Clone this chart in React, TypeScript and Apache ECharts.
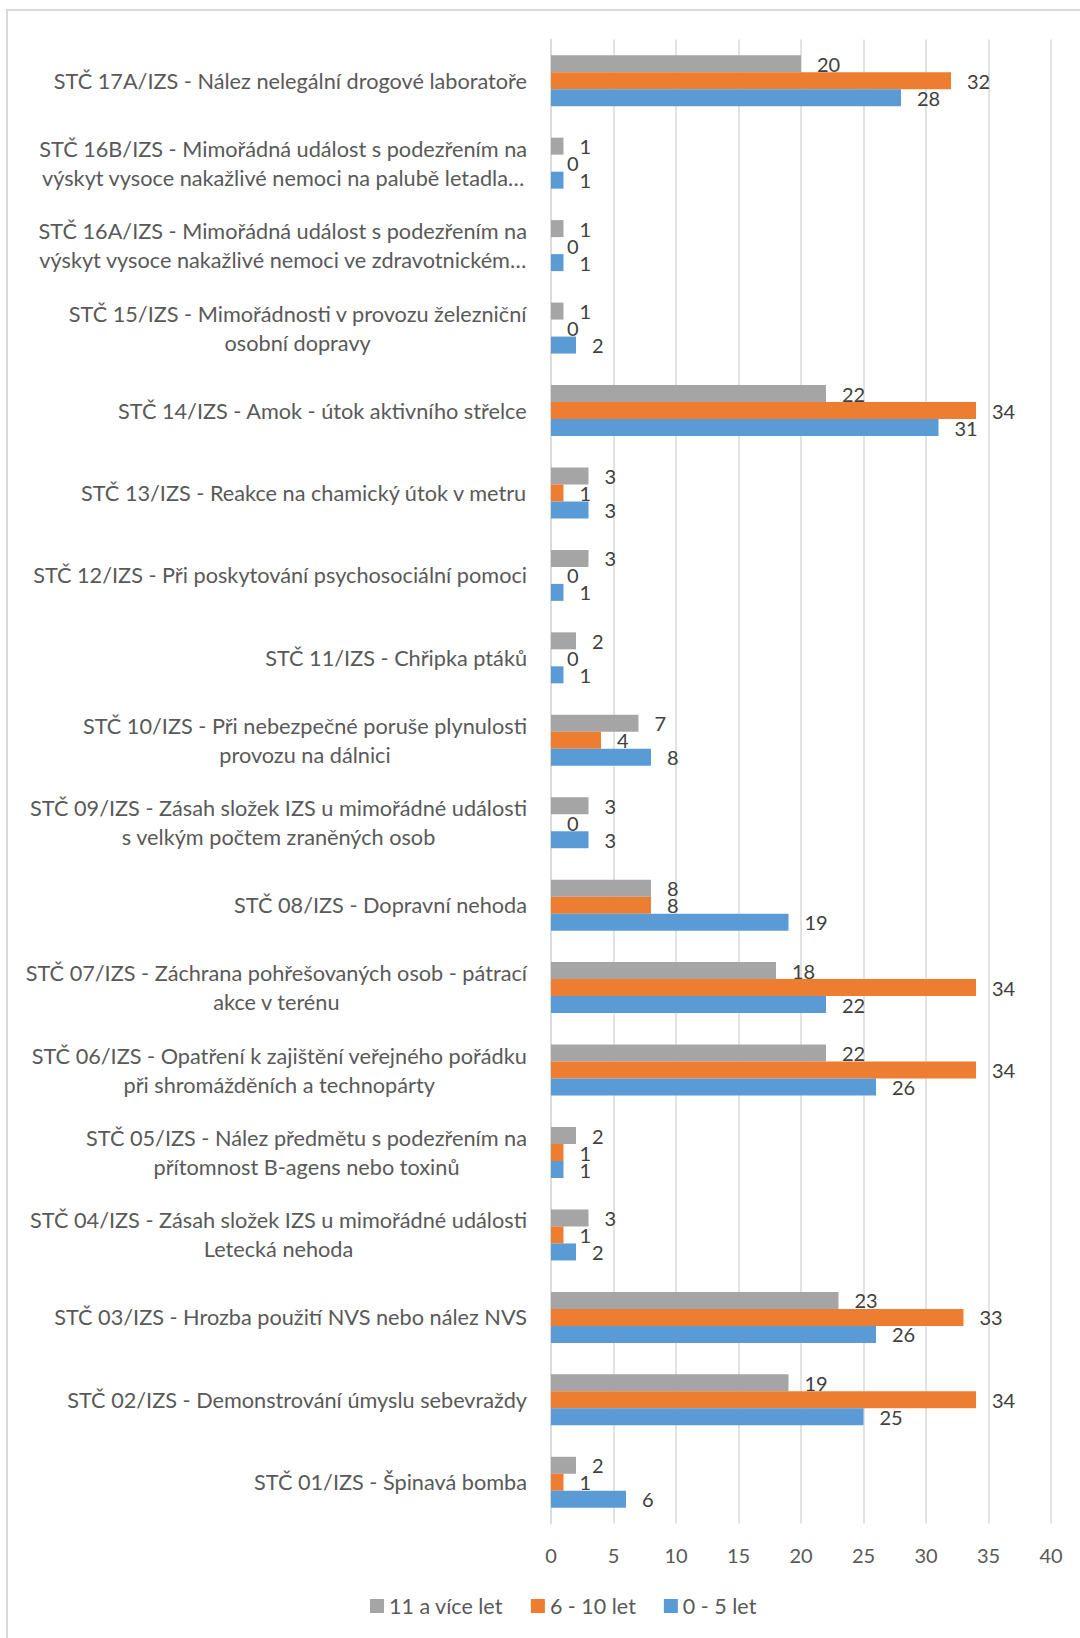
import React, { useEffect, useRef } from "react";
import * as echarts from "echarts";

const categories: string[] = [
  "STČ 17A/IZS - Nález nelegální drogové laboratoře",
  "STČ 16B/IZS - Mimořádná událost s podezřením na\nvýskyt vysoce nakažlivé nemoci na palubě letadla…",
  "STČ 16A/IZS - Mimořádná událost s podezřením na\nvýskyt vysoce nakažlivé nemoci ve zdravotnickém…",
  "STČ 15/IZS - Mimořádnosti v provozu železniční\nosobní dopravy",
  "STČ 14/IZS - Amok - útok aktivního střelce",
  "STČ 13/IZS - Reakce na chamický útok v metru",
  "STČ 12/IZS - Při poskytování psychosociální pomoci",
  "STČ 11/IZS - Chřipka ptáků",
  "STČ 10/IZS - Při nebezpečné poruše plynulosti\nprovozu na dálnici",
  "STČ 09/IZS - Zásah složek IZS u mimořádné události\ns velkým počtem zraněných osob",
  "STČ 08/IZS - Dopravní nehoda",
  "STČ 07/IZS - Záchrana pohřešovaných osob - pátrací\nakce v terénu",
  "STČ 06/IZS - Opatření k zajištění veřejného pořádku\npři shromážděních a technopárty",
  "STČ 05/IZS - Nález předmětu s podezřením na\npřítomnost B-agens nebo toxinů",
  "STČ 04/IZS - Zásah složek IZS u mimořádné události\nLetecká nehoda",
  "STČ 03/IZS - Hrozba použití NVS nebo nález NVS",
  "STČ 02/IZS - Demonstrování úmyslu sebevraždy",
  "STČ 01/IZS - Špinavá bomba",
];

const seriesNames: string[] = ["11 a více let", "6 - 10 let", "0 - 5 let"];

const valuesOld: number[] = [20, 1, 1, 1, 22, 3, 3, 2, 7, 3, 8, 18, 22, 2, 3, 23, 19, 2];
const valuesMid: number[] = [32, 0, 0, 0, 34, 1, 0, 0, 4, 0, 8, 34, 34, 1, 1, 33, 34, 1];
const valuesYoung: number[] = [28, 1, 1, 2, 31, 3, 1, 1, 8, 3, 19, 22, 26, 1, 2, 26, 25, 6];

const xTicks = { min: 0, max: 40, interval: 5 };

const colors = ["#a5a5a5", "#ed7d31", "#5b9bd5"];
const FONT = "Lato";

export default function App() {
  const ref = useRef<HTMLDivElement>(null);

  useEffect(() => {
    if (!ref.current) return;
    const chart = echarts.init(ref.current, undefined, { renderer: "svg" });
    const datasets = [valuesOld, valuesMid, valuesYoung];

    const option: any = {
      animation: false,
      backgroundColor: "#ffffff",
      textStyle: { fontFamily: FONT },
      graphic: [
        {
          type: "rect",
          shape: { x: 7, y: 10, width: 1200, height: 1800 },
          style: { fill: "none", stroke: "#d9d9d9", lineWidth: 2 },
          silent: true,
          z: 0,
        },
      ],
      grid: {
        left: 551,
        right: 29,
        top: 39.5,
        bottom: 114.5,
        containLabel: false,
      },
      legend: {
        bottom: 16,
        left: 365,
        itemWidth: 14,
        itemHeight: 14,
        itemGap: 28,
        icon: "rect",
        textStyle: { fontFamily: FONT, fontSize: 21.5, color: "#595959" },
        data: seriesNames,
      },
      xAxis: {
        type: "value",
        min: xTicks.min,
        max: xTicks.max,
        interval: xTicks.interval,
        axisLine: { show: false },
        axisTick: { show: false },
        axisLabel: { fontFamily: FONT, fontSize: 20, color: "#595959", margin: 21 },
        splitLine: { show: true, lineStyle: { color: "#d9d9d9", width: 1.5 } },
      },
      yAxis: {
        type: "category",
        inverse: true,
        data: categories,
        axisLine: { show: true, lineStyle: { color: "#d9d9d9", width: 1.5 } },
        axisTick: { show: false },
        axisLabel: {
          margin: 24,
          fontFamily: FONT,
          fontSize: 21.7,
          color: "#595959",
          lineHeight: 29,
          formatter: (v: string) =>
            v
              .split("\n")
              .map((l) => `{c|${l}}`)
              .join("\n"),
          rich: {
            c: {
              align: "center",
              fontFamily: FONT,
              fontSize: 21.7,
              color: "#595959",
              lineHeight: 29,
            },
          },
        },
      },
      series: seriesNames.map((name, i) => ({
        name,
        type: "bar",
        data: datasets[i],
        barWidth: 17,
        barGap: "0%",
        itemStyle: { color: colors[i] },
        label: {
          show: true,
          position: "right",
          distance: 16,
          offset: [0, 0],
          fontFamily: FONT,
          fontSize: 20,
          color: "#404040",
        },
      })),
    };

    chart.setOption(option);
    return () => chart.dispose();
  }, []);

  return (
    <div
      ref={ref}
      style={{ position: "absolute", left: 0, top: 0, width: 1080, height: 1638, background: "#fff" }}
    />
  );
}
